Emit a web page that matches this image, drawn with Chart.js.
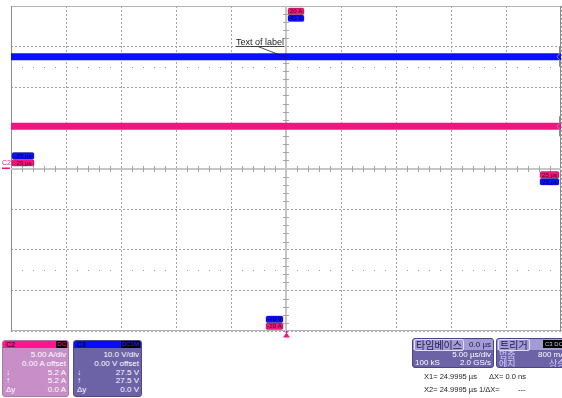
<!DOCTYPE html>
<html>
<head>
<meta charset="utf-8">
<script src="https://cdn.jsdelivr.net/npm/chart.js@4.4.1/dist/chart.umd.min.js"></script>
<style>
  html, body { margin: 0; padding: 0; background: #fff; width: 562px; height: 398px; overflow: hidden;
    font-family: "Liberation Sans", Arial, sans-serif; }
  #scope { position: absolute; left: 0; top: 0; }
  .panel { position: absolute; box-sizing: border-box; border-radius: 3px; color: #fff; font-size: 8px; line-height: 8px; overflow: hidden; }
  .hdr { position: absolute; left: 0; right: 0; top: 0; height: 7px; color: #000; font-size: 7px; line-height: 7px; padding-left: 3px; }
  .cpl { position: absolute; right: 1px; top: 0; height: 7px; background: #000; font-size: 6px; line-height: 7px; padding: 0 1px; border-radius: 1px; }
  .row { position: absolute; left: 0; right: 2px; height: 8px; text-align: right; white-space: nowrap; }
  .sym { position: absolute; left: 3px; }
  .kr { font-family: "Noto Sans CJK KR", sans-serif; }
  .cur { position: absolute; font-size: 7.5px; line-height: 8px; color: #222; white-space: nowrap; }
</style>
</head>
<body>
<canvas id="scope" width="562" height="340"></canvas>

<div class="panel" id="c2panel" style="left:2px;top:340px;width:67px;height:57px;background:#c88ec8;border:1px solid #a97aa9;">
  <div class="hdr" style="background:#ff168a;">C2<span class="cpl" style="color:#ff168a;">DC</span></div>
</div>
<div class="panel" id="c3panel" style="left:73px;top:340px;width:69px;height:57px;background:#6c62a6;border:1px solid #50488a;">
  <div class="hdr" style="background:#0a0aff;">C3<span class="cpl" style="color:#2a2aff;">DC1M</span></div>
</div>

<div class="panel" style="left:412px;top:338px;width:82px;height:30px;background:#6c62a6;border:1px solid #4c4488;">
  <div style="position:absolute;left:0;right:0;top:0;height:11px;background:#a39bd8;"></div>
  <div class="kr" style="position:absolute;left:1px;top:0;height:10px;padding:0 1px;border:1px solid #e2dcff;border-radius:2px;color:#1e1a44;font-size:10px;line-height:10px;">타임베이스</div>
  <div style="position:absolute;right:2px;top:2px;color:#1e1a44;">0.0 µs</div>
  <div style="position:absolute;right:2px;top:12px;">5.00 µs/div</div>
  <div style="position:absolute;left:2px;top:20px;">100 kS</div>
  <div style="position:absolute;right:2px;top:20px;">2.0 GS/s</div>
</div>
<div class="panel" style="left:496px;top:338px;width:72px;height:30px;background:#6c62a6;border:1px solid #4c4488;">
  <div style="position:absolute;left:0;right:0;top:0;height:11px;background:#a39bd8;"></div>
  <div class="kr" style="position:absolute;left:1px;top:0;height:10px;padding:0 1px;border:1px solid #e2dcff;border-radius:2px;color:#1e1a44;font-size:10px;line-height:10px;">트리거</div>
  <div style="position:absolute;left:46px;top:1px;height:8px;background:#000;color:#c8c8c8;font-size:6px;line-height:8px;padding:0 2px;">C3 DC</div>
  <div class="kr" style="position:absolute;left:2px;top:11px;color:#d4ccff;font-size:9px;line-height:9px;">멈춤</div>
  <div style="position:absolute;left:41px;top:12px;">800 mA</div>
  <div class="kr" style="position:absolute;left:2px;top:19.5px;color:#d4ccff;font-size:9px;line-height:9px;">에지</div>
  <div class="kr" style="position:absolute;left:52px;top:19.5px;color:#d4ccff;font-size:9px;line-height:9px;">상승</div>
</div>

<div class="cur" style="left:424px;top:373px;">X1= 24.9995 µs</div>
<div class="cur" style="left:489px;top:373px;">ΔX= 0.0 ns</div>
<div class="cur" style="left:424px;top:386px;">X2= 24.9995 µs</div>
<div class="cur" style="left:479px;top:386px;">1/ΔX=</div>
<div class="cur" style="left:518px;top:386px;">---</div>

<script>
// Acquisition: time base points (µs) and the level of each channel at those points
const timeUs  = [-25, -20, -15, -10, -5, 0, 5, 10, 15, 20, 25];
const c3Volts = [27.5, 27.5, 27.5, 27.5, 27.5, 27.5, 27.5, 27.5, 27.5, 27.5, 27.5];
const c2Amps  = [5.2, 5.2, 5.2, 5.2, 5.2, 5.2, 5.2, 5.2, 5.2, 5.2, 5.2];

// Screen edge labels
const timeEdgeLabels = ['-25 µs', '25 µs'];
const c2EdgeLabels   = ['20 A', '-20 A'];
const c3EdgeLabels   = ['40 V', '-40 V'];

// Channel settings shown in the readout panels
const c2Settings = ['5.00 A/div', '0.00 A offset'];
const c3Settings = ['10.0 V/div', '0.00 V offset'];

const PINK = '#f5147f';
const BLUE = '#0a10ff';

function fillPanel(id, settings, values, unit) {
  const panel = document.getElementById(id);
  const cursorVal = values[values.length - 1];
  const rows = [
    ['', settings[0]],
    ['', settings[1]],
    ['\u2193', cursorVal.toFixed(1) + ' ' + unit],
    ['\u2191', cursorVal.toFixed(1) + ' ' + unit],
    ['\u0394y', (0).toFixed(1) + ' ' + unit]
  ];
  const tops = [10, 19, 28, 36, 45];
  rows.forEach((r, i) => {
    const d = document.createElement('div');
    d.className = 'row';
    d.style.top = tops[i] + 'px';
    d.textContent = r[1];
    if (r[0]) {
      const s = document.createElement('span');
      s.className = 'sym';
      s.textContent = r[0];
      d.appendChild(s);
    }
    panel.appendChild(d);
  });
}
fillPanel('c2panel', c2Settings, c2Amps, 'A');
fillPanel('c3panel', c3Settings, c3Volts, 'V');

function tag(ctx, text, x, y, w, h, bg, fg) {
  ctx.fillStyle = bg;
  ctx.beginPath();
  ctx.roundRect(x, y, w, h, 1.5);
  ctx.fill();
  ctx.strokeStyle = 'rgba(0,0,0,0.45)';
  ctx.lineWidth = 0.6;
  ctx.stroke();
  ctx.fillStyle = fg;
  ctx.font = '6px "Liberation Sans", Arial, sans-serif';
  ctx.textAlign = 'center';
  ctx.textBaseline = 'middle';
  ctx.fillText(text, x + w / 2, y + h / 2 + 0.5);
}

function seg(ctx, x1, y1, x2, y2) {
  ctx.beginPath();
  ctx.moveTo(x1, y1);
  ctx.lineTo(x2, y2);
  ctx.stroke();
}

const scopeOverlay = {
  id: 'scopeOverlay',
  beforeDatasetsDraw(chart) {
    const { ctx, chartArea: a, scales: { x, y } } = chart;
    ctx.save();
    // screen frame
    ctx.strokeStyle = '#b4b4b4';
    ctx.lineWidth = 1;
    ctx.strokeRect(a.left + 0.5, a.top + 0.5, a.width - 1, a.height - 1);
    ctx.strokeStyle = '#8c8c8c';
    seg(ctx, a.left + 0.5, a.top, a.left + 0.5, a.bottom);
    seg(ctx, a.right - 0.5, a.top, a.right - 0.5, a.bottom);

    // dotted rows at ±2.5 div
    ctx.fillStyle = '#9a9a9a';
    [25, -25].forEach(v => {
      const py = Math.round(y.getPixelForValue(v));
      for (let t = -24; t < 25; t++) {
        if (t % 5 === 0) continue;
        ctx.fillRect(Math.round(x.getPixelForValue(t)), py, 1, 1);
      }
    });

    // center crosshair with minor ticks
    const cx = Math.round(x.getPixelForValue(0));
    const cy = Math.round(y.getPixelForValue(0));
    ctx.strokeStyle = '#c6c6c6';
    ctx.lineWidth = 2;
    seg(ctx, a.left, cy, a.right, cy);
    seg(ctx, cx, a.top, cx, a.bottom);
    ctx.strokeStyle = '#a4a4a4';
    ctx.lineWidth = 1;
    for (let t = -24; t <= 24; t++) {
      if (t % 5 === 0) continue;
      const px = Math.round(x.getPixelForValue(t)) + 0.5;
      seg(ctx, px, cy - 3, px, cy + 3);
    }
    for (let v = -38; v <= 38; v += 2) {
      if (v % 10 === 0) continue;
      const py = Math.round(y.getPixelForValue(v)) + 0.5;
      seg(ctx, cx - 3, py, cx + 3, py);
    }
    ctx.restore();
  },
  afterDatasetsDraw(chart) {
    const { ctx, chartArea: a, scales: { x, y, yA } } = chart;
    const cx = x.getPixelForValue(0);
    const cy = y.getPixelForValue(0);
    ctx.save();

    // channel range tags at top and bottom of screen
    tag(ctx, c2EdgeLabels[0], cx + 2, a.top + 2, 16, 6.5, PINK, '#3a0018');
    tag(ctx, c3EdgeLabels[0], cx + 2, a.top + 9, 16, 6.5, BLUE, '#000040');
    tag(ctx, c3EdgeLabels[1], cx - 20, a.bottom - 15, 17, 6.5, BLUE, '#000040');
    tag(ctx, c2EdgeLabels[1], cx - 20, a.bottom - 8, 17, 6.5, PINK, '#3a0018');

    // time edge tags on the zero line
    tag(ctx, timeEdgeLabels[0], a.left + 1, cy - 16, 22, 6.5, BLUE, '#000040');
    tag(ctx, timeEdgeLabels[0], a.left + 1, cy - 9, 22, 6.5, PINK, '#3a0018');
    tag(ctx, timeEdgeLabels[1], a.right - 21, cy + 3, 19, 6.5, PINK, '#3a0018');
    tag(ctx, timeEdgeLabels[1], a.right - 21, cy + 10, 19, 6.5, BLUE, '#000040');

    // C2 ground marker
    ctx.fillStyle = PINK;
    ctx.font = '7px "Liberation Sans", Arial, sans-serif';
    ctx.textAlign = 'left';
    ctx.textBaseline = 'middle';
    ctx.fillText('C2', 2, cy - 5);
    ctx.fillRect(2, cy - 1, 8, 1.5);

    // level brackets at the right edge
    ctx.strokeStyle = '#8a8a8a';
    ctx.lineWidth = 1;
    [y.getPixelForValue(c3Volts[c3Volts.length - 1]), yA.getPixelForValue(c2Amps[c2Amps.length - 1])].forEach(py => {
      ctx.beginPath();
      ctx.moveTo(a.right - 1.5, py - 10);
      ctx.lineTo(a.right - 1.5, py - 3);
      ctx.lineTo(a.right - 4, py);
      ctx.lineTo(a.right - 1.5, py + 3);
      ctx.lineTo(a.right - 1.5, py + 10);
      ctx.stroke();
    });

    // label annotation pointing at the C3 trace
    const tx = 236, ty = 45;
    ctx.font = '9px "Liberation Sans", Arial, sans-serif';
    ctx.fillStyle = '#1e1e1e';
    ctx.textBaseline = 'alphabetic';
    ctx.fillText('Text of label', tx, ty);
    const tw = ctx.measureText('Text of label').width;
    ctx.strokeStyle = '#1e1e1e';
    ctx.lineWidth = 0.8;
    seg(ctx, tx, ty + 1.5, tx + tw, ty + 1.5);
    seg(ctx, tx + 22, ty + 1.5, cx + 1, y.getPixelForValue(c3Volts[5]) + 1);

    // trigger position marker below the screen
    ctx.fillStyle = PINK;
    ctx.fillRect(cx - 0.5, a.bottom, 2, 2);
    ctx.beginPath();
    ctx.moveTo(cx - 3, a.bottom + 6.5);
    ctx.lineTo(cx + 4, a.bottom + 6.5);
    ctx.lineTo(cx + 0.5, a.bottom + 1.5);
    ctx.closePath();
    ctx.fill();
    ctx.restore();
  }
};

const gridColor = ctx => (ctx.tick && ctx.tick.value === 0) ? 'rgba(0,0,0,0)' : '#a2a2a2';

new Chart(document.getElementById('scope'), {
  type: 'line',
  data: {
    datasets: [
      {
        label: 'C3',
        data: timeUs.map((t, i) => ({ x: t, y: c3Volts[i] })),
        borderColor: BLUE,
        borderWidth: 7,
        pointRadius: 0,
        yAxisID: 'y'
      },
      {
        label: 'C2',
        data: timeUs.map((t, i) => ({ x: t, y: c2Amps[i] })),
        borderColor: PINK,
        borderWidth: 7,
        pointRadius: 0,
        yAxisID: 'yA'
      }
    ]
  },
  options: {
    responsive: false,
    animation: false,
    devicePixelRatio: 1,
    layout: { padding: { left: 11, top: 6, right: 1, bottom: 9 } },
    plugins: { legend: { display: false }, tooltip: { enabled: false } },
    scales: {
      x: {
        type: 'linear', min: -25, max: 25,
        ticks: { display: false, stepSize: 5 },
        grid: { color: gridColor, lineWidth: 1, drawTicks: false },
        border: { display: false, dash: [2, 2] }
      },
      y: {
        type: 'linear', min: -40, max: 40, position: 'left',
        ticks: { display: false, stepSize: 10 },
        grid: { color: gridColor, lineWidth: 1, drawTicks: false },
        border: { display: false, dash: [2, 2] }
      },
      yA: {
        type: 'linear', min: -20, max: 20, position: 'right', display: false
      }
    }
  },
  plugins: [scopeOverlay]
});
</script>
</body>
</html>
